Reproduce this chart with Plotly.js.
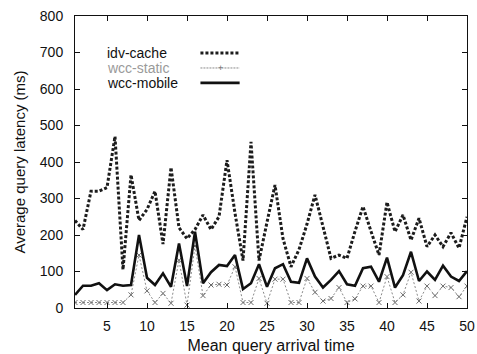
<!DOCTYPE html>
<html>
<head>
<meta charset="utf-8">
<script src="https://cdn.plot.ly/plotly-3.0.1.min.js"></script>
<style>
html,body{margin:0;padding:0;background:#fff;}
#chart{width:477px;height:354px;}
</style>
</head>
<body>
<div id="chart"></div>
<script>
// ---- data ----
const arrivalTime = [1,2,3,4,5,6,7,8,9,10,11,12,13,14,15,16,17,18,19,20,21,22,23,24,25,26,27,28,29,30,31,32,33,34,35,36,37,38,39,40,41,42,43,44,45,46,47,48,49,50];
const idvCache = [240,215,320,320,330,470,105,365,240,270,320,175,385,220,190,215,255,215,250,405,260,130,455,130,235,337,190,113,160,230,310,220,136,145,136,210,278,210,145,290,209,255,186,246,168,200,168,206,164,250];
const wccStatic = [15,15,15,15,15,15,15,36,145,47,15,40,13,131,8,170,34,63,65,63,113,15,15,81,13,79,79,15,15,81,43,19,26,56,15,25,60,60,15,86,15,36,98,19,60,34,60,56,31,60];
const wccMobile = [36,61,61,68,49,65,61,63,200,83,63,95,58,177,60,209,68,98,118,115,145,52,68,120,58,109,120,72,69,136,86,56,77,101,65,61,109,113,72,138,56,90,154,74,100,77,116,86,74,101];
const seriesNames = ["idv-cache","wcc-static","wcc-mobile"];
const xTicks = [5,10,15,20,25,30,35,40,45,50];
const yTicks = [0,100,200,300,400,500,600,700,800];
const xTitle = "Mean query arrival time";
const yTitle = "Average query latency (ms)";

const FONT = "Liberation Sans, Arial, Helvetica, sans-serif";

const traces = [
  {x: arrivalTime, y: idvCache, name: seriesNames[0], type: "scatter", mode: "lines",
   line: {color: "#1c1c1c", width: 3, dash: "3px,2px"}},
  {x: arrivalTime, y: wccStatic, name: seriesNames[1], type: "scatter", mode: "lines+markers",
   line: {color: "#8a8a8a", width: 1, dash: "2px,2px"},
   marker: {symbol: "x-thin-open", size: 5, color: "#6a6a6a", line: {width: 1, color: "#6a6a6a"}}},
  {x: arrivalTime, y: wccMobile, name: seriesNames[2], type: "scatter", mode: "lines",
   line: {color: "#111", width: 2.6}}
];

// custom gnuplot-style key (text left, sample right)
const keyRows = [0.873, 0.822, 0.771];
const keyColors = ["#111", "#9a9a9a", "#111"];
const annotations = seriesNames.map((n, i) => ({
  xref: "paper", yref: "paper", x: 0.0765, y: keyRows[i], xanchor: "left", yanchor: "middle",
  text: n, showarrow: false, font: {family: FONT, size: 14, color: keyColors[i]}
}));
const shapes = [
  {type: "line", xref: "paper", yref: "paper", x0: 0.32, x1: 0.42, y0: keyRows[0], y1: keyRows[0],
   line: {color: "#1c1c1c", width: 3, dash: "3px,2px"}},
  {type: "line", xref: "paper", yref: "paper", x0: 0.32, x1: 0.42, y0: keyRows[1], y1: keyRows[1],
   line: {color: "#8a8a8a", width: 1, dash: "2px,1px"}},
  {type: "line", xref: "paper", yref: "paper", x0: 0.32, x1: 0.42, y0: keyRows[2], y1: keyRows[2],
   line: {color: "#111", width: 2.6}}
];
annotations.push({xref: "paper", yref: "paper", x: 0.37, y: keyRows[1], xanchor: "center", yanchor: "middle",
  text: "+", showarrow: false, font: {family: FONT, size: 9, color: "#6a6a6a"}});

const layout = {
  width: 477, height: 354,
  margin: {l: 75, r: 10, t: 16, b: 46, pad: 0},
  paper_bgcolor: "#fff", plot_bgcolor: "#fff",
  showlegend: false,
  font: {family: FONT, size: 14, color: "#111"},
  xaxis: {
    range: [1, 50], tickvals: xTicks, ticktext: xTicks.map(String),
    ticks: "inside", ticklen: 5, tickcolor: "#111", showline: true, linecolor: "#111", linewidth: 1,
    mirror: "ticks", showgrid: false, zeroline: false, ticklabelstandoff: 5,
    tickfont: {family: FONT, size: 14, color: "#111"},
    title: {text: xTitle, font: {family: FONT, size: 16, color: "#111"}, standoff: 8}
  },
  yaxis: {
    range: [0, 800], tickvals: yTicks, ticktext: yTicks.map(String),
    ticks: "inside", ticklen: 5, tickcolor: "#111", showline: true, linecolor: "#111", linewidth: 1,
    mirror: "ticks", showgrid: false, zeroline: false, ticklabelstandoff: 8,
    tickfont: {family: FONT, size: 14, color: "#111"},
    title: {text: yTitle, font: {family: FONT, size: 15, color: "#111"}, standoff: 10}
  },
  annotations: annotations,
  shapes: shapes
};

Plotly.newPlot("chart", traces, layout, {displayModeBar: false, staticPlot: true});
</script>
</body>
</html>
